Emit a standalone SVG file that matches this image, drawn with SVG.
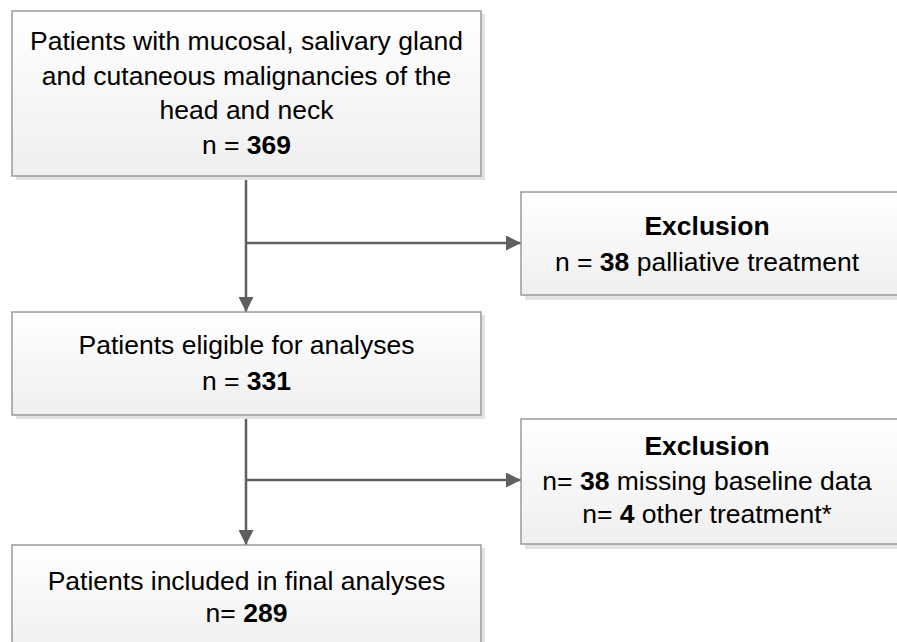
<svg xmlns="http://www.w3.org/2000/svg" width="897" height="642" viewBox="0 0 897 642">
  <defs>
    <linearGradient id="boxfill" x1="0" y1="0" x2="0" y2="1">
      <stop offset="0" stop-color="#ffffff"/>
      <stop offset="1" stop-color="#efefef"/>
    </linearGradient>
    <marker id="arrow" markerWidth="15" markerHeight="15" refX="15" refY="7.5" orient="auto" markerUnits="userSpaceOnUse">
      <path d="M0,0 L15,7.5 L0,15 Z" fill="#5f5f5f"/>
    </marker>
  </defs>
  <style>
    .shadow { fill: #e3e3e3; }
    .box { fill: url(#boxfill); stroke: #9a9a9a; stroke-width: 1.5; }
    .t { font-family: "Liberation Sans", Arial, sans-serif; font-size: 26.5px; fill: #000000; text-anchor: middle; }
    .b { font-weight: bold; }
    .conn { fill: none; stroke: #5f5f5f; stroke-width: 2.5; }
  </style>
  <rect width="897" height="642" fill="#ffffff"/>

  <g id="connectors">
    <path class="conn" d="M246,176 L246,312" marker-end="url(#arrow)"/>
    <path class="conn" d="M246,243 L521,243" marker-end="url(#arrow)"/>
    <path class="conn" d="M246,415 L246,545" marker-end="url(#arrow)"/>
    <path class="conn" d="M246,480 L521,480" marker-end="url(#arrow)"/>
  </g>

  <g id="node-all">
    <rect class="shadow" x="16" y="14" width="469" height="166"/>
    <rect class="box" x="12" y="11" width="469" height="165"/>
    <text class="t" x="246.5" y="50">Patients with mucosal, salivary gland</text>
    <text class="t" x="246.5" y="84.5">and cutaneous malignancies of the</text>
    <text class="t" x="246.5" y="119">head and neck</text>
    <text class="t" x="246.5" y="153.5">n = <tspan class="b">369</tspan></text>
  </g>

  <g id="node-exclusion1">
    <rect class="shadow" x="525" y="196" width="380" height="104"/>
    <rect class="box" x="521" y="192" width="380" height="103"/>
    <text class="t" x="707" y="235"><tspan class="b">Exclusion</tspan></text>
    <text class="t" x="707" y="271">n = <tspan class="b">38</tspan> palliative treatment</text>
  </g>

  <g id="node-eligible">
    <rect class="shadow" x="16" y="315" width="469" height="104"/>
    <rect class="box" x="12" y="312" width="469" height="103"/>
    <text class="t" x="246.5" y="354">Patients eligible for analyses</text>
    <text class="t" x="246.5" y="390">n = <tspan class="b">331</tspan></text>
  </g>

  <g id="node-exclusion2">
    <rect class="shadow" x="525" y="423" width="380" height="126"/>
    <rect class="box" x="521" y="419" width="380" height="125"/>
    <text class="t" x="707" y="455"><tspan class="b">Exclusion</tspan></text>
    <text class="t" x="707" y="490">n= <tspan class="b">38</tspan> missing baseline data</text>
    <text class="t" x="707" y="523">n= <tspan class="b">4</tspan> other treatment*</text>
  </g>

  <g id="node-final">
    <rect class="shadow" x="16" y="548" width="469" height="110"/>
    <rect class="box" x="12" y="545" width="469" height="110"/>
    <text class="t" x="246.5" y="590">Patients included in final analyses</text>
    <text class="t" x="246.5" y="622">n= <tspan class="b">289</tspan></text>
  </g>
</svg>
